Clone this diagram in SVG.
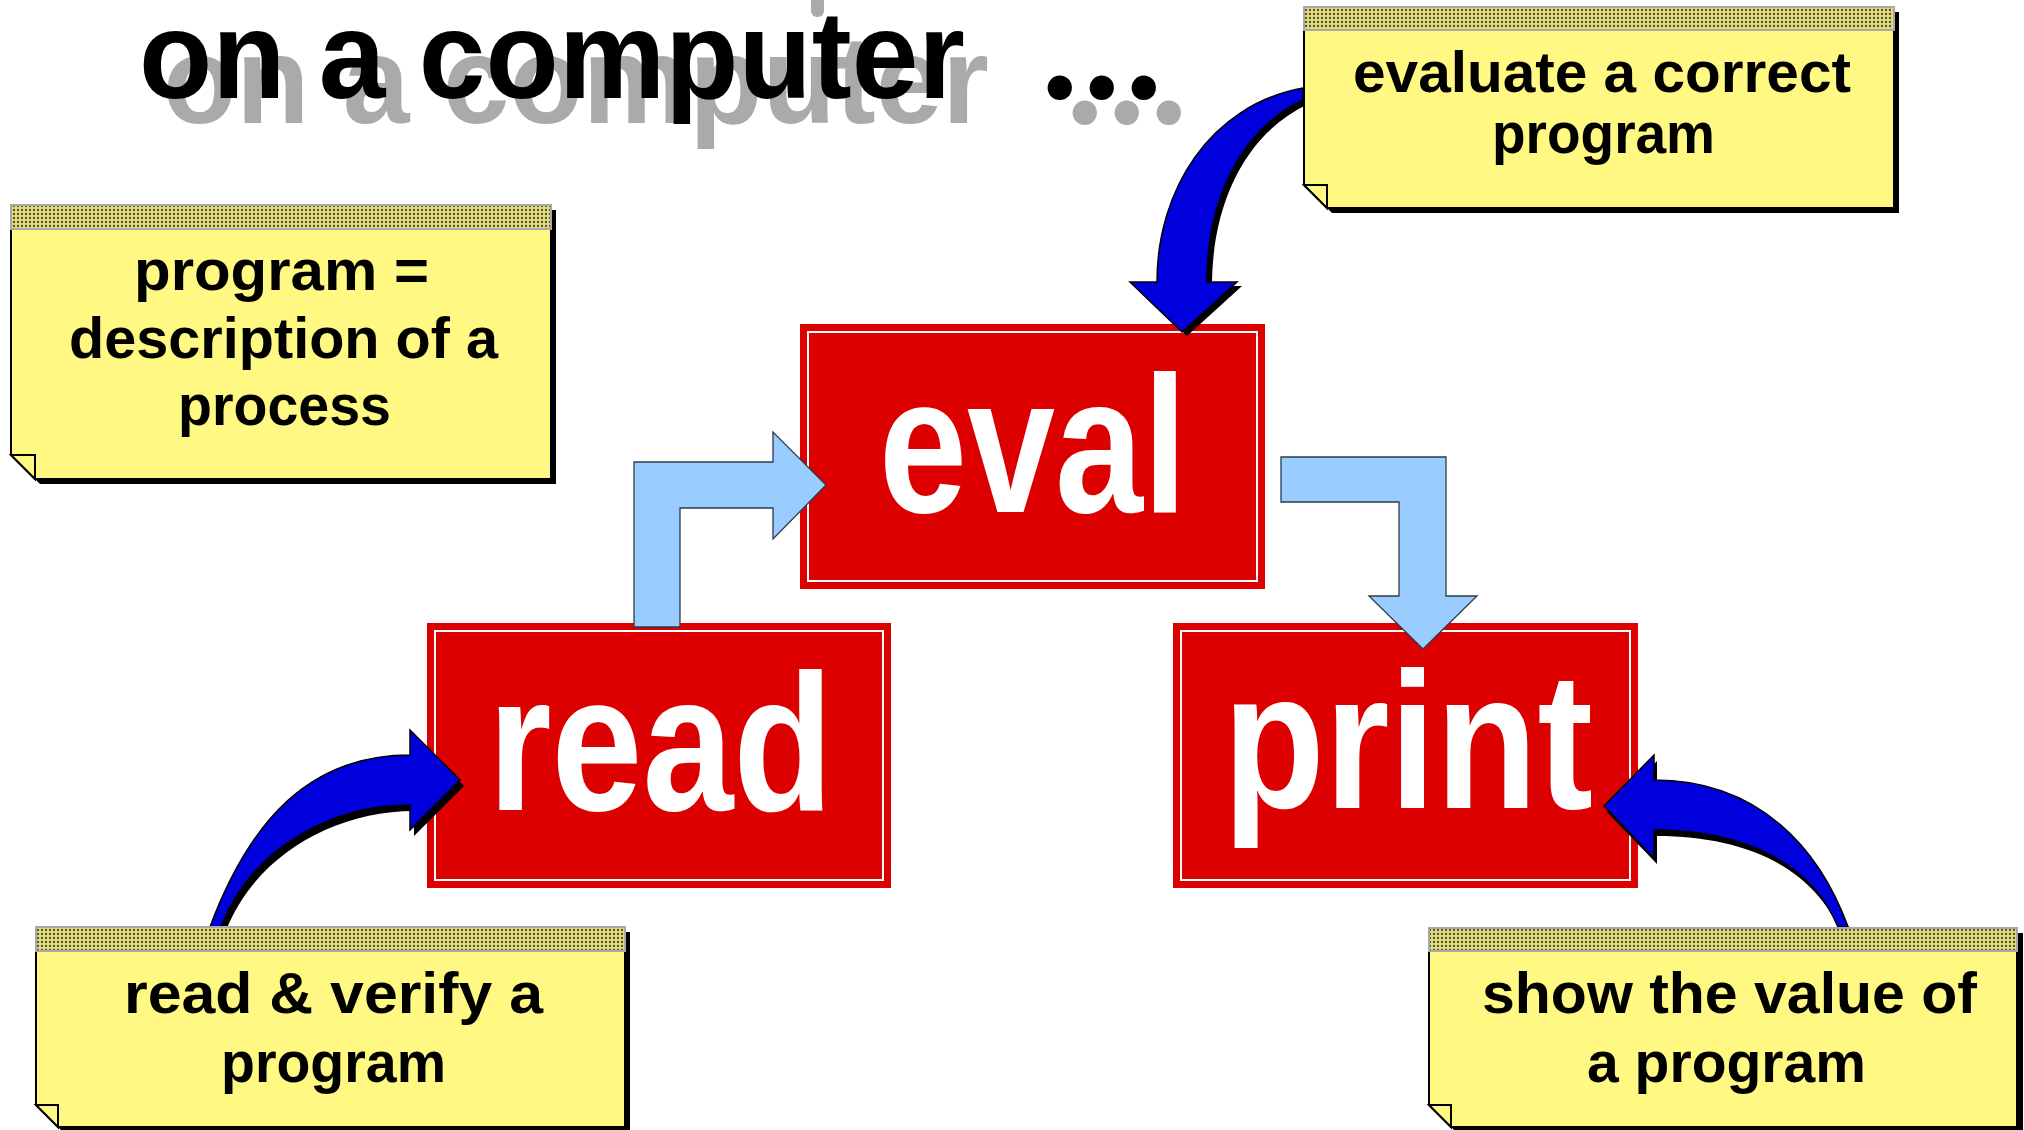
<svg xmlns="http://www.w3.org/2000/svg" width="2024" height="1130" viewBox="0 0 2024 1130">
  <defs>
    <!-- dotted strip on top of each sticky note -->
    <pattern id="dots" width="4" height="4" patternUnits="userSpaceOnUse">
      <rect width="4" height="4" fill="#E4DC78"/>
      <circle cx="2" cy="2" r="1.15" fill="#4a4a3a"/>
    </pattern>
  </defs>
  <style>
    .title { font-family: "Liberation Sans", Arial, sans-serif; font-weight: bold; font-size: 125px; }
    .dots3 { font-family: "Liberation Serif", "Times New Roman", serif; font-weight: bold; font-size: 150px; letter-spacing: 4.5px; }
    .ink { fill: #000000; }
    .ghost { fill: #AAAAAA; }
    .box { fill: #DD0000; }
    .boxline { fill: none; stroke: #FFFFFF; stroke-width: 2; }
    .boxtext { font-family: "Liberation Sans", Arial, sans-serif; font-weight: bold; font-size: 195px; fill: #FFFFFF; }
    .flow { fill: #99CCFF; stroke: #2e3a48; stroke-width: 1.3; stroke-linejoin: miter; }
    .curl { fill: #0000DD; stroke: #000000; stroke-width: 1.5; stroke-linejoin: miter; }
    .curlshadow { fill: #000000; }
    .shadow { fill: #000000; }
    .paper { fill: #FFF882; stroke: #000000; stroke-width: 2; stroke-linejoin: miter; }
    .strip { fill: url(#dots); stroke: #A8A8A8; stroke-width: 2; }
    .notetext { font-family: "Liberation Sans", Arial, sans-serif; font-weight: bold; font-size: 58px; fill: #000000; }
  </style>

  <rect width="2024" height="1130" fill="#FFFFFF"/>

  <!-- heading with its grey drop copy -->
  <g id="heading">
    <rect x="811" y="-8" width="13" height="25" rx="6" class="ghost"/>
    <text x="163" y="123" class="title ghost" textLength="826" lengthAdjust="spacingAndGlyphs">on a computer</text>
    <text x="1066" y="123" class="dots3 ghost">...</text>
    <text x="139" y="98" class="title ink" textLength="826" lengthAdjust="spacingAndGlyphs">on a computer</text>
    <text x="1041" y="98" class="dots3 ink">...</text>
  </g>

  <!-- the three stages -->
  <g id="eval">
    <rect x="800" y="324" width="465" height="265" class="box"/>
    <rect x="808" y="332" width="449" height="249" class="boxline"/>
    <text x="879" y="512" class="boxtext" textLength="308" lengthAdjust="spacingAndGlyphs">eval</text>
  </g>
  <g id="read">
    <rect x="427" y="623" width="464" height="265" class="box"/>
    <rect x="435" y="631" width="448" height="249" class="boxline"/>
    <text x="488" y="810" class="boxtext" textLength="345" lengthAdjust="spacingAndGlyphs">read</text>
  </g>
  <g id="print">
    <rect x="1173" y="623" width="465" height="265" class="box"/>
    <rect x="1181" y="631" width="449" height="249" class="boxline"/>
    <text x="1223" y="808" class="boxtext" textLength="370" lengthAdjust="spacingAndGlyphs">print</text>
  </g>

  <!-- connectors: block arrows between stages, curled arrows from the notes -->
  <g id="connectors">
    <polygon id="read-to-eval" class="flow" points="634,627 634,462 773,462 773,432 826,485 773,539 773,508 680,508 680,627"/>
    <polygon id="eval-to-print" class="flow" points="1281,457 1446,457 1446,596 1477,596 1423,649 1369,596 1399,596 1399,502 1281,502"/>

    <g id="curl-eval">
      <path class="curlshadow" transform="translate(5,4)" d="M1303,88 C1210,105 1157,190 1157,282 L1130,282 L1182,332 L1237,282 L1207,282 C1207,200 1240,130 1303,100 Z"/>
      <path class="curl" d="M1303,88 C1210,105 1157,190 1157,282 L1130,282 L1182,332 L1237,282 L1207,282 C1207,200 1240,130 1303,100 Z"/>
    </g>
    <g id="curl-read">
      <path class="curlshadow" transform="translate(4,6)" d="M210,927 C250,820 310,755 410,755 L410,730 L460,780 L410,830 L410,805 C330,805 250,850 221,927 Z"/>
      <path class="curl" d="M210,927 C250,820 310,755 410,755 L410,730 L460,780 L410,830 L410,805 C330,805 250,850 221,927 Z"/>
    </g>
    <g id="curl-print">
      <path class="curlshadow" transform="translate(3,6)" d="M1848,927 C1820,850 1760,780 1654,780 L1654,755 L1604,806 L1654,858 L1654,830 C1740,830 1810,860 1838,927 Z"/>
      <path class="curl" d="M1848,927 C1820,850 1760,780 1654,780 L1654,755 L1604,806 L1654,858 L1654,830 C1740,830 1810,860 1838,927 Z"/>
    </g>
  </g>

  <!-- sticky notes: shadow, paper with folded corner, dotted strip, text -->
  <g id="note-program">
    <polygon class="shadow" points="16,210 556,210 556,484 40,484 16,460"/>
    <polygon class="paper" points="11,229 551,229 551,479 35,479 11,455"/>
    <polygon class="paper" points="11,455 35,455 35,479"/>
    <rect x="11" y="205" width="540" height="24" class="strip"/>
    <text x="134" y="290" class="notetext" textLength="295" lengthAdjust="spacingAndGlyphs">program =</text>
    <text x="69" y="358" class="notetext" textLength="429" lengthAdjust="spacingAndGlyphs">description of a</text>
    <text x="178" y="425" class="notetext" textLength="213" lengthAdjust="spacingAndGlyphs">process</text>
  </g>

  <g id="note-eval">
    <polygon class="shadow" points="1309,12 1899,12 1899,213 1332,213 1309,190"/>
    <polygon class="paper" points="1304,30 1894,30 1894,208 1327,208 1304,185"/>
    <polygon class="paper" points="1304,185 1327,185 1327,208"/>
    <rect x="1304" y="7" width="590" height="23" class="strip"/>
    <text x="1353" y="92" class="notetext" textLength="498" lengthAdjust="spacingAndGlyphs">evaluate a correct</text>
    <text x="1492" y="153" class="notetext" textLength="223" lengthAdjust="spacingAndGlyphs">program</text>
  </g>

  <g id="note-read">
    <polygon class="shadow" points="41,932 630,932 630,1132 63,1132 41,1110"/>
    <polygon class="paper" points="36,951 625,951 625,1127 58,1127 36,1105"/>
    <polygon class="paper" points="36,1105 58,1105 58,1127"/>
    <rect x="36" y="927" width="589" height="24" class="strip"/>
    <text x="124" y="1013" class="notetext" textLength="419" lengthAdjust="spacingAndGlyphs">read &amp; verify a</text>
    <text x="221" y="1082" class="notetext" textLength="225" lengthAdjust="spacingAndGlyphs">program</text>
  </g>

  <g id="note-print">
    <polygon class="shadow" points="1434,933 2023,933 2023,1132 1456,1132 1434,1110"/>
    <polygon class="paper" points="1429,951 2017,951 2017,1127 1451,1127 1429,1105"/>
    <polygon class="paper" points="1429,1105 1451,1105 1451,1127"/>
    <rect x="1429" y="928" width="588" height="23" class="strip"/>
    <text x="1482" y="1013" class="notetext" textLength="495" lengthAdjust="spacingAndGlyphs">show the value of</text>
    <text x="1587" y="1082" class="notetext" textLength="279" lengthAdjust="spacingAndGlyphs">a program</text>
  </g>
</svg>
